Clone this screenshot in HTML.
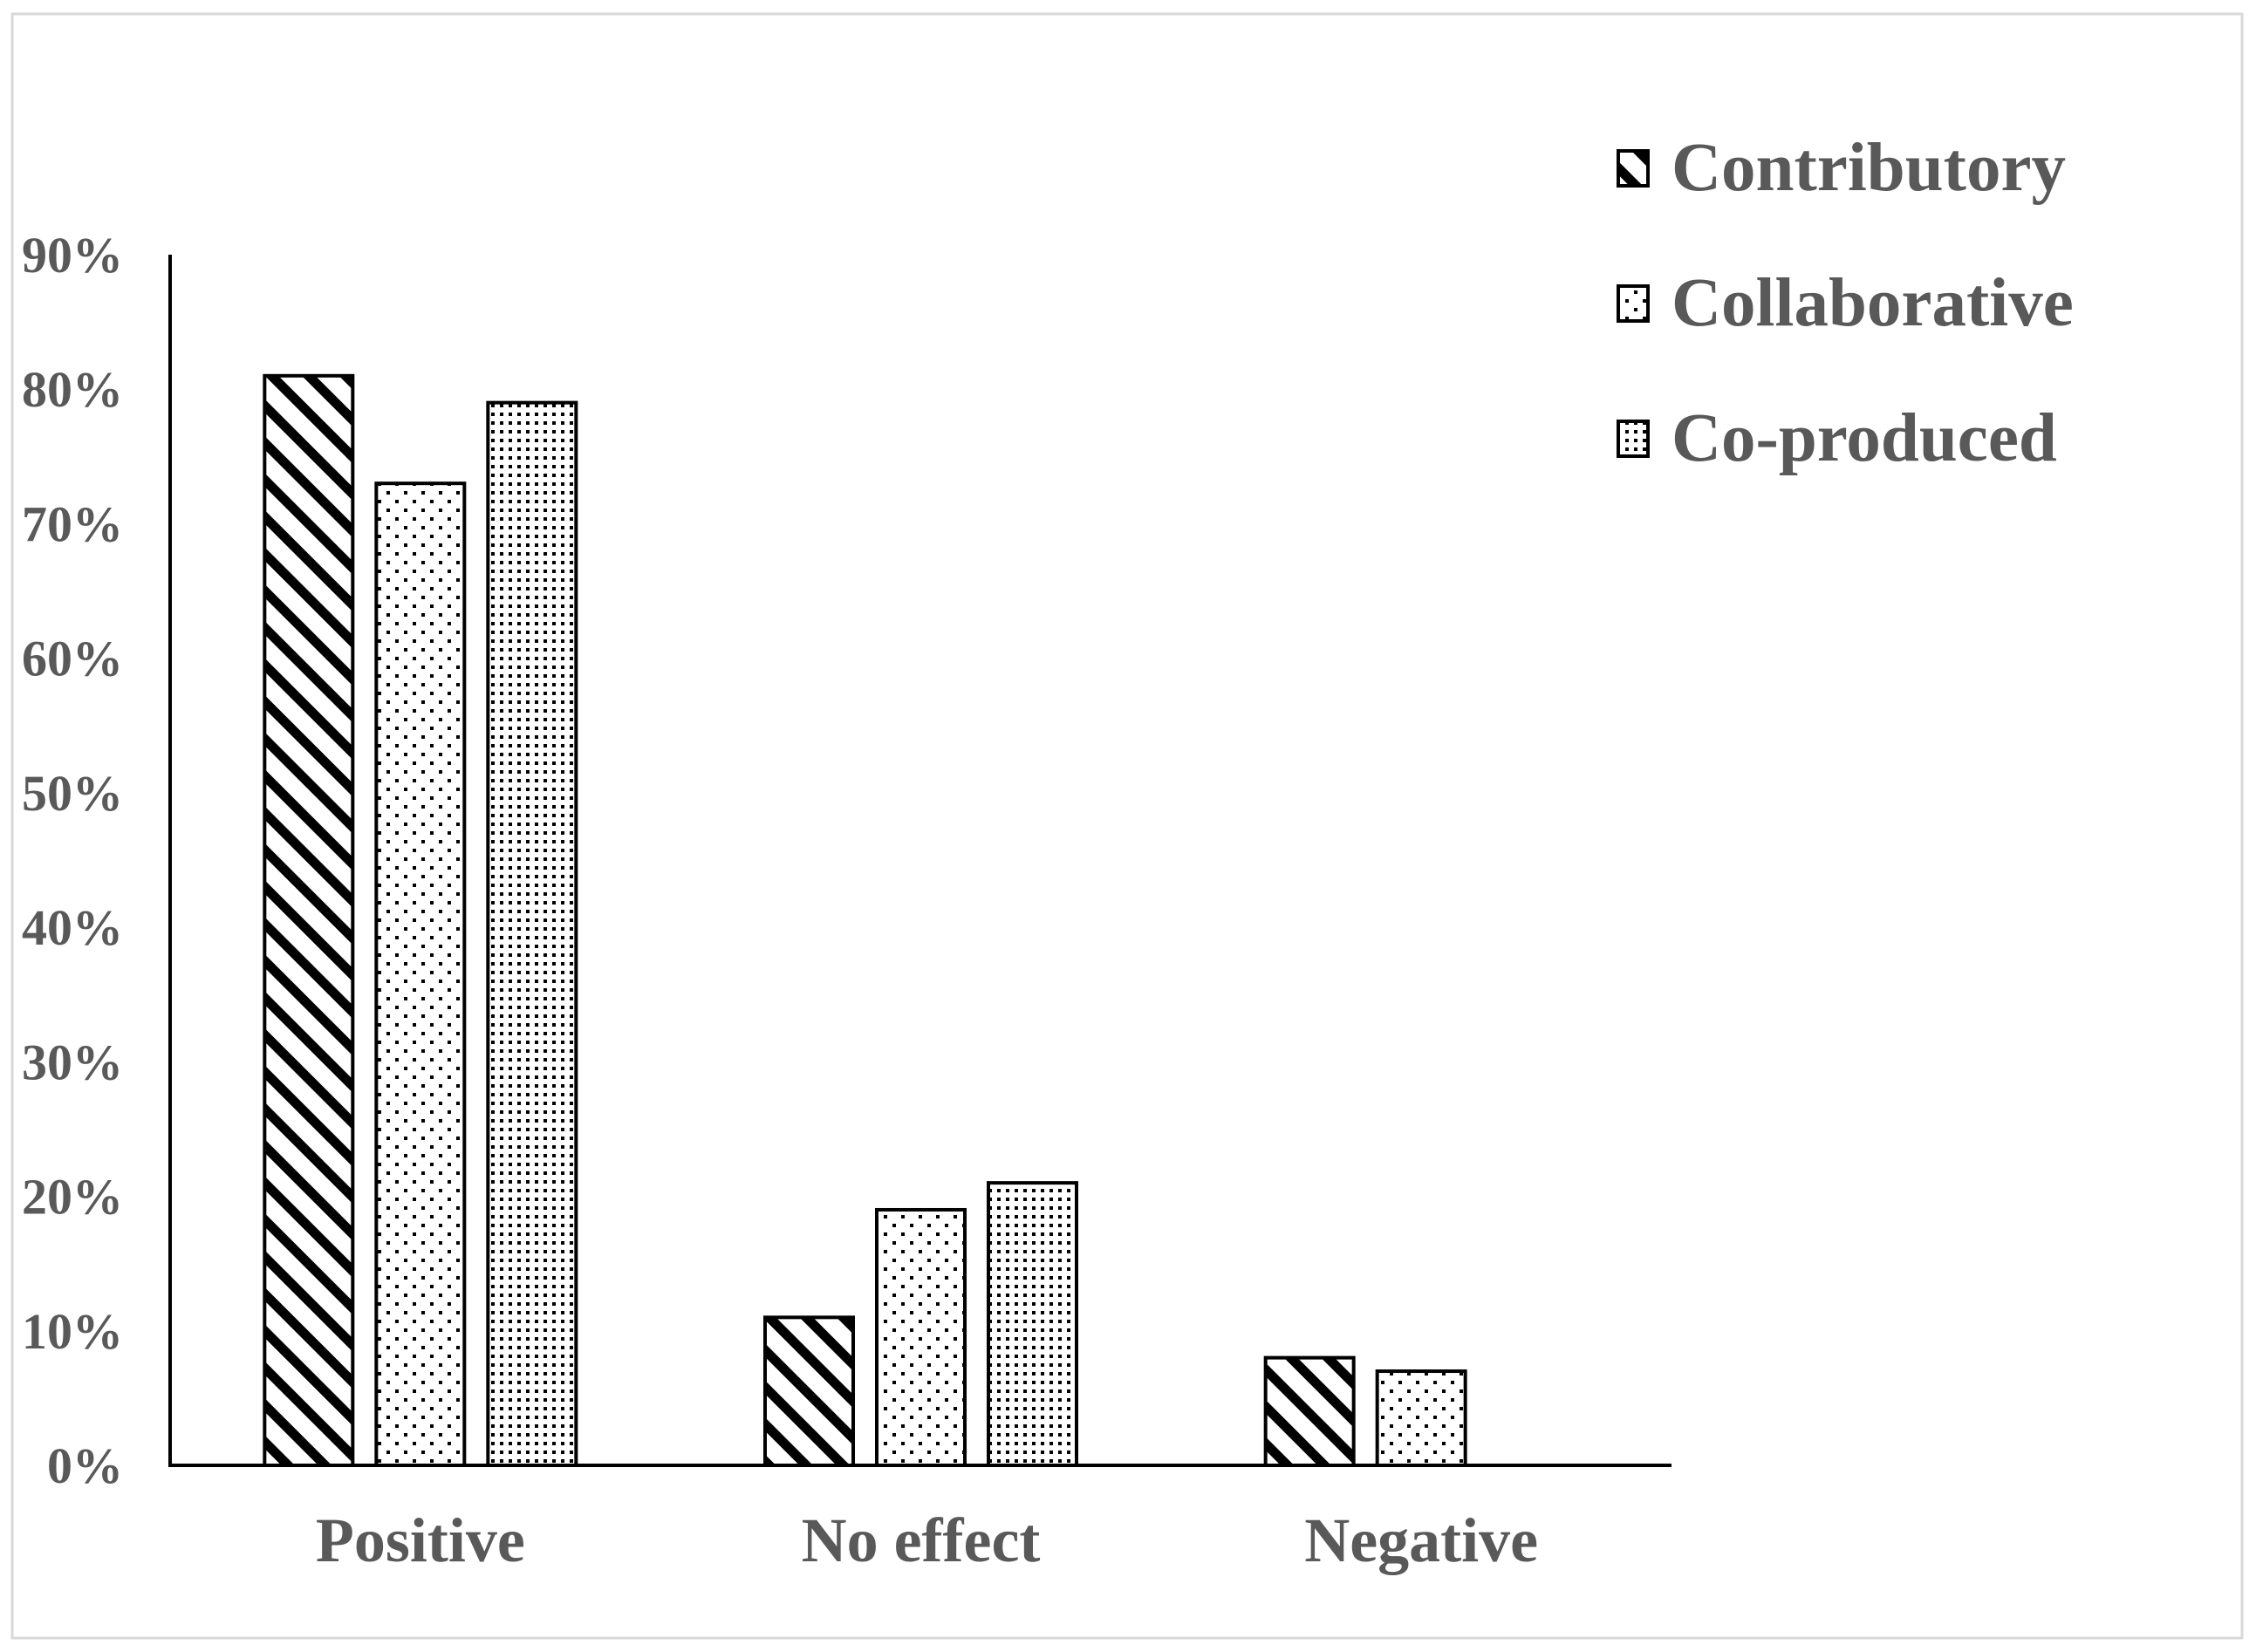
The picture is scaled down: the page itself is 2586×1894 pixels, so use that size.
<!DOCTYPE html>
<html><head><meta charset="utf-8"><style>
body{margin:0;background:#fff}
svg{display:block}
text{font-family:"Liberation Serif",serif;font-weight:bold;fill:#595959}
</style></head><body>
<svg id="chart" width="2586" height="1894" viewBox="0 0 2586 1894" xmlns="http://www.w3.org/2000/svg">
<defs>
<pattern id="pat-stripe" patternUnits="userSpaceOnUse" width="30" height="30" patternTransform="rotate(-45)">
<rect width="30" height="30" fill="#fff"/><rect x="0" y="0" width="11" height="30" fill="#000"/>
</pattern>
<pattern id="pat-dots" patternUnits="userSpaceOnUse" width="20" height="20">
<rect width="20" height="20" fill="#fff"/><rect x="3" y="3" width="4" height="4" fill="#000"/><rect x="13" y="13" width="4" height="4" fill="#000"/>
</pattern>
<pattern id="pat-dense" patternUnits="userSpaceOnUse" width="10" height="10">
<rect width="10" height="10" fill="#fff"/><rect x="3" y="3" width="4" height="4" fill="#000"/>
</pattern>
</defs>
<rect x="14" y="16" width="2556" height="1862" fill="none" stroke="#d9d9d9" stroke-width="3"/>
<g id="plot"></g>
</svg>
<script>
const categories = ["Positive", "No effect", "Negative"];
const seriesNames = ["Contributory", "Collaborative", "Co-produced"];
const contributory = [81, 11, 8];
const collaborative = [73, 19, 7];
const coproduced = [79, 21, 0];
const yTicks = [0, 10, 20, 30, 40, 50, 60, 70, 80, 90];

const NS = "http://www.w3.org/2000/svg";
const X0 = 195, X1 = 1916, Y0 = 1680, YTOP = 292, YMAX = 90;
const fills = ["url(#pat-stripe)", "url(#pat-dots)", "url(#pat-dense)"];
const series = [contributory, collaborative, coproduced];
const y = v => Y0 - (v / YMAX) * (Y0 - YTOP);
const bandW = (X1 - X0) / categories.length;
const xc = i => X0 + bandW * (i + 0.5);
const barW = 101, step = 128;
const g = document.getElementById("plot");
function mk(tag, attrs) { const e = document.createElementNS(NS, tag); for (const k in attrs) e.setAttribute(k, attrs[k]); g.appendChild(e); return e; }

yTicks.forEach(t => {
  const e = mk("text", { x: 141, y: y(t) + 20, "text-anchor": "end", "font-size": 58 });
  e.textContent = t + "%";
  
  
});
categories.forEach((c, i) => {
  const e = mk("text", { x: xc(i), y: 1790, "text-anchor": "middle", "font-size": 72 });
  e.textContent = c;
  
  
  series.forEach((s, j) => {
    if (s[i] <= 0) return;
    const bx = xc(i) + (j - 1) * step - barW / 2;
    const r = mk("rect", { x: bx, y: y(s[i]), width: barW, height: Y0 - y(s[i]), fill: fills[j], stroke: "#000", "stroke-width": 4 });
    
    
  });
});
const ya = mk("line", { x1: X0, y1: YTOP, x2: X0, y2: Y0, stroke: "#000", "stroke-width": 4 });


const xa = mk("line", { x1: X0 - 2, y1: Y0, x2: X1, y2: Y0, stroke: "#000", "stroke-width": 4 });


seriesNames.forEach((n, j) => {
  const by = 173 + j * 155;
  const sw = mk("rect", { x: 1855, y: by, width: 34, height: 40, fill: fills[j], stroke: "#000", "stroke-width": 4 });
  
  
  const t = mk("text", { x: 1916, y: 218 + j * 155, "font-size": 79 });
  t.textContent = n;
  
  
});
</script>
</body></html>
